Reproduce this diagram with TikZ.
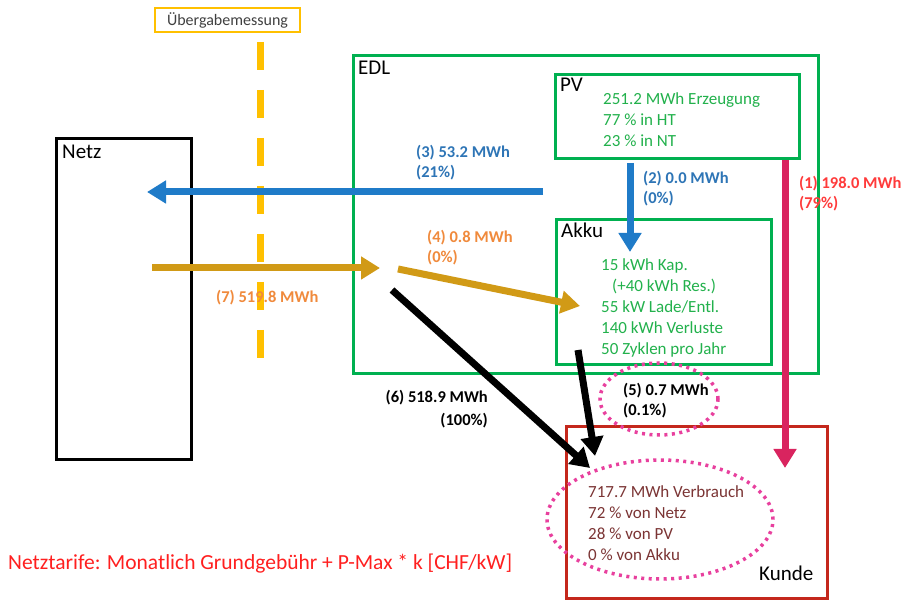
\documentclass[tikz,border=0pt]{standalone}
\usepackage{fontspec}
\setmainfont{Carlito}
\usetikzlibrary{arrows.meta,shapes.geometric}
\definecolor{edlgreen}{HTML}{00B050}
\definecolor{txtgreen}{HTML}{22B14C}
\definecolor{flowblue}{HTML}{1F7BC8}
\definecolor{lblblue}{HTML}{2E75B6}
\definecolor{flowgold}{HTML}{D19A16}
\definecolor{lblorange}{HTML}{F08A3C}
\definecolor{mgold}{HTML}{FFC000}
\definecolor{flowpink}{HTML}{D9245F}
\definecolor{lblred}{HTML}{FF3B3B}
\definecolor{kundered}{HTML}{C4281C}
\definecolor{kundetxt}{HTML}{7B3434}
\definecolor{dotmag}{HTML}{E8409E}
\definecolor{tarifred}{HTML}{FF1F1F}
\definecolor{dgray}{HTML}{404040}
\begin{document}
\begin{tikzpicture}[x=1pt,y=-1pt,
  box/.style={draw, line width=3pt, inner sep=0pt, anchor=north west},
  ttl/.style={font=\fontsize{21}{24}\selectfont, anchor=base west, inner sep=0pt},
  body/.style={font=\fontsize{17}{21}\selectfont, anchor=base west, inner sep=0pt, align=left},
  lbl/.style={font=\fontsize{16.5}{20}\selectfont\bfseries, anchor=base west, inner sep=0pt, align=left},
  flow/.style={line width=7pt, -{Triangle[length=19pt,width=22pt]}},
  dotring/.style={ellipse, draw=dotmag, line width=3.5pt, dash pattern=on 3pt off 4.5pt, inner sep=0pt},
]
\useasboundingbox[fill=white] (0,0) rectangle (903,601);

% boxes
\node[box, draw=black, minimum width=135, minimum height=321] (netz) at (55,137) {};
\node[box, draw=edlgreen, minimum width=465, minimum height=318] (edl) at (352,54) {};
\node[box, draw=edlgreen, minimum width=244, minimum height=84] (pv) at (554,73) {};
\node[box, draw=edlgreen, minimum width=215, minimum height=145] (akku) at (555,218) {};
\node[box, draw=kundered, minimum width=261, minimum height=172] (kunde) at (565,425) {};

% Uebergabemessung
\node[draw=mgold, line width=2.5pt, minimum width=145, minimum height=24, inner sep=0pt,
      font=\fontsize{16}{18}\selectfont, text=dgray] (ueber) at (227.5,20) {Übergabemessung};
\coordinate (dtop) at (260,42);
\coordinate (dbot) at (260,358);
\draw[mgold, line width=7pt, dash pattern=on 28pt off 20pt] (dtop) -- (dbot);

% titles
\node[ttl] (netzl) at (62,159) {Netz};
\node[ttl] (edll) at (358,75) {EDL};
\node[ttl] (pvl) at (560,92) {PV};
\node[ttl] (akkul) at (561,238) {Akku};
\node[ttl] (kundel) at (759,580) {Kunde};

% body texts (anchor = baseline of last line)
\node[body, text=txtgreen] (pvtxt) at (603,146.5) {251.2 MWh Erzeugung\\77 \% in HT\\23 \% in NT};
\node[body, text=txtgreen, font=\fontsize{17}{20.8}\selectfont] (akkutxt) at (601,354.2) {15 kWh Kap.\\\hspace*{11pt}(+40 kWh Res.)\\55 kW Lade/Entl.\\140 kWh Verluste\\50 Zyklen pro Jahr};
\node[body, text=kundetxt, font=\fontsize{17}{21.3}\selectfont] (kundetxt) at (588,561) {717.7 MWh Verbrauch\\72 \% von Netz\\28 \% von PV\\0 \% von Akku};

% dotted rings
\node[dotring, minimum width=226, minimum height=119] (ringk) at (660,519.5) {};
\node[dotring, minimum width=118, minimum height=72] (ring5) at (659,399) {};

% flow endpoints
\coordinate (s3) at (543,192); \coordinate (e3) at (147,192);
\coordinate (s2) at (630,163); \coordinate (e2) at (630,252);
\coordinate (s1) at (785,160); \coordinate (e1) at (785,468);
\coordinate (s7) at (152,268); \coordinate (e7) at (380,268);
\coordinate (s4) at (398,269); \coordinate (e4) at (580,306);
\coordinate (s6) at (392,290); \coordinate (e6) at (590,468);
\coordinate (s5) at (578,350); \coordinate (e5) at (595,456);

\draw[flow, flowblue] (s3) -- (e3);
\draw[flow, flowblue] (s2) -- (e2);
\draw[flow, flowpink] (s1) -- (e1);
\draw[flow, flowgold] (s7) -- (e7);
\draw[flow, flowgold] (s4) -- (e4);
\draw[flow, black] (s6) -- (e6);
\draw[flow, black] (s5) -- (e5);

% flow labels (anchor = baseline of last line)
\node[lbl, text=lblblue] (l3) at (416,178) {(3) 53.2 MWh\\(21\%)};
\node[lbl, text=lblblue] (l2) at (643,204) {(2) 0.0 MWh\\(0\%)};
\node[lbl, text=lblred] (l1) at (799,209) {(1) 198.0 MWh\\(79\%)};
\node[lbl, text=lblorange] (l4) at (427,263) {(4) 0.8 MWh\\(0\%)};
\node[lbl, text=lblorange] (l7) at (216,303) {(7) 519.8 MWh};
\node[lbl, text=black, anchor=base east, align=right, font=\fontsize{16.5}{23}\selectfont\bfseries] (l6) at (488,426) {(6) 518.9 MWh\\(100\%)};
\node[lbl, text=black] (l5) at (623,416) {(5) 0.7 MWh\\(0.1\%)};

% tariff note
\node[anchor=base west, inner sep=0pt, text=tarifred, font=\fontsize{21.5}{24}\selectfont] (tarif) at (8,569) {Netztarife: Monatlich Grundgebühr + P-Max * k [CHF/kW]};
\end{tikzpicture}
\end{document}
